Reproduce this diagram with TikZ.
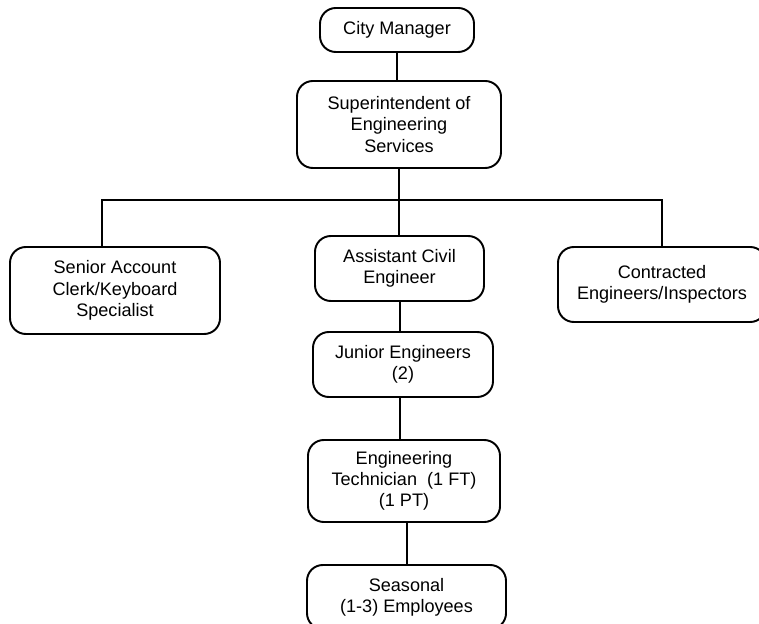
\documentclass[tikz,border=0pt]{standalone}
\usepackage{fontspec}
\setmainfont{Liberation Sans}
\usepackage{tikz}
\usetikzlibrary{positioning,calc}

\tikzset{
  box/.style={draw, line width=1.1pt, rounded corners=9pt, align=center,
    inner sep=2pt, font=\fontsize{10.3}{12.1}\selectfont},
  link/.style={line width=0.6pt}
}

\begin{document}
\begin{tikzpicture}[x=0.02cm,y=-0.02cm]
  \useasboundingbox (0,0) rectangle (759,624);
  \clip (0,0) rectangle (759,624);
  % top of the chart
  \node[box, minimum width=154*0.02cm, minimum height=44*0.02cm] (cm) at (397,30) {City Manager};
  \node[box, minimum width=204*0.02cm, minimum height=87*0.02cm] (sup) at (399,124.5) {Superintendent of\\Engineering\\Services};
  % second row
  \node[box, minimum width=210*0.02cm, minimum height=87*0.02cm] (clerk) at (115,290.5) {Senior Account\\Clerk/Keyboard\\Specialist};
  \node[box, minimum width=169*0.02cm, minimum height=65*0.02cm] (ace) at (399.5,268.5) {Assistant Civil\\Engineer};
  \node[box, minimum width=208*0.02cm, minimum height=75*0.02cm] (contr) at (662,284.5) {Contracted\\Engineers/Inspectors};
  % down the middle
  \node[box, minimum width=180*0.02cm, minimum height=65*0.02cm] (je) at (403,364.5) {Junior Engineers\\(2)};
  \node[box, minimum width=192*0.02cm, minimum height=82*0.02cm] (tech) at (404,481) {Engineering\\Technician\ \ (1 FT)\\(1 PT)};
  \node[box, minimum width=199*0.02cm, minimum height=64*0.02cm] (seas) at (406.5,597) {Seasonal\\(1-3)\ Employees};

  \coordinate (bar) at (399,200);
  \coordinate (lft) at (102,247);
  \draw[link] (cm) -- (cm.south |- sup.north);
  \draw[link] (sup.south) -- (sup.south |- ace.north);
  \draw[link] (lft) |- (bar) -| (contr.north);
  \draw[link] (ace.south -| 400,0) -- (je.north -| 400,0);
  \draw[link] (je.south -| 400,0) -- (tech.north -| 400,0);
  \draw[link] (tech.south -| 407,0) -- (seas.north -| 407,0);
\end{tikzpicture}
\end{document}
